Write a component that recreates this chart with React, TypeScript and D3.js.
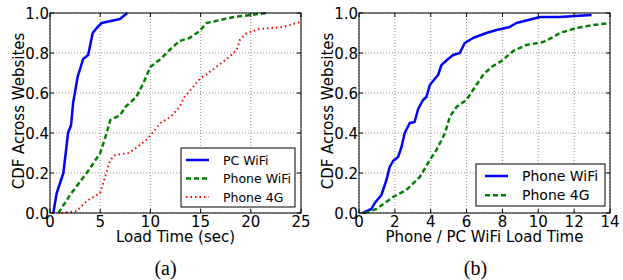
import * as d3 from 'd3';

// (load time in sec, cdf)
const pcWifiA: [number, number][] = [
  [0.33, 0], [0.67, 0.1], [1.33, 0.2], [1.8, 0.4], [2.1, 0.44], [2.3, 0.55], [2.75, 0.68],
  [3.3, 0.77], [3.8, 0.79], [4.25, 0.9], [4.65, 0.925], [5.15, 0.95], [6.97, 0.97], [7.7, 1.0],
];
const phoneWifiA: [number, number][] = [
  [0.83, 0], [2, 0.09], [3.8, 0.21], [5, 0.3], [5.65, 0.4], [6, 0.465], [7, 0.49], [7.5, 0.53],
  [8.6, 0.58], [9.3, 0.65], [10, 0.73], [11, 0.77], [11.8, 0.81], [12.9, 0.86], [13.9, 0.875],
  [14.9, 0.91], [15.6, 0.95], [18.3, 0.98], [21.6, 1.0],
];
const phone4gA: [number, number][] = [
  [1.15, 0], [2.65, 0.01], [3.65, 0.06], [5, 0.1], [5.3, 0.15], [5.6, 0.2], [6, 0.265],
  [6.5, 0.29], [7.8, 0.3], [8.3, 0.315], [9.6, 0.365], [10.2, 0.4], [11, 0.45], [12, 0.48],
  [12.9, 0.53], [13.4, 0.58], [14.1, 0.62], [14.9, 0.67], [16.3, 0.72], [17.6, 0.77],
  [18.6, 0.815], [18.9, 0.865], [19.6, 0.9], [20.9, 0.92], [23.2, 0.93], [24.9, 0.955],
];

// (phone / pc wifi load time ratio, cdf)
const phoneWifiB: [number, number][] = [
  [0.22, 0], [0.69, 0.02], [0.88, 0.05], [1.25, 0.09], [1.53, 0.165], [1.71, 0.23], [1.9, 0.26],
  [2.18, 0.28], [2.37, 0.33], [2.55, 0.4], [2.83, 0.45], [3.1, 0.455], [3.3, 0.52], [3.57, 0.565],
  [3.76, 0.58], [3.95, 0.64], [4.22, 0.67], [4.41, 0.69], [4.6, 0.74], [4.97, 0.77], [5.25, 0.79],
  [5.62, 0.8], [5.9, 0.85], [6.36, 0.875], [7.1, 0.9], [7.67, 0.915], [8.4, 0.93], [8.78, 0.95],
  [10.1, 0.98], [11.2, 0.98], [12.97, 0.99],
];
const phone4gB: [number, number][] = [
  [0.32, 0], [0.97, 0.02], [1.9, 0.08], [2.64, 0.115], [3.39, 0.18], [3.95, 0.265], [4.32, 0.315],
  [4.8, 0.4], [5.06, 0.48], [5.43, 0.53], [5.99, 0.565], [6.36, 0.615], [6.92, 0.69], [7.39, 0.73],
  [7.95, 0.76], [8.6, 0.81], [9.34, 0.84], [10.27, 0.855], [10.83, 0.88], [11.2, 0.9],
  [12.13, 0.925], [13.06, 0.94], [14, 0.95],
];

const xTicksA = [0, 5, 10, 15, 20, 25];
const xTicksB = [0, 2, 4, 6, 8, 10, 12, 14];
const yTicks = [0, 0.2, 0.4, 0.6, 0.8, 1.0];

interface Series {
  name: string;
  data: [number, number][];
  color: string;
  width: number;
  dash?: string;
}

interface Legend { x: number; y: number; w: number; h: number; pad: number; gap: number; font: number }

const FONT = 'DejaVu Sans, sans-serif';

const Panel = ({ left, right, xMax, xTicks, xLabel, series, legend, caption, captionX }: {
  left: number; right: number; xMax: number; xTicks: number[]; xLabel: string;
  series: Series[]; legend: Legend; caption: string; captionX: number;
}) => {
  const top = 13, bottom = 213;
  const x = d3.scaleLinear().domain([0, xMax]).range([left, right]);
  const y = d3.scaleLinear().domain([0, 1]).range([bottom, top]);
  const line = d3.line<[number, number]>().x(d => x(d[0])).y(d => y(d[1]));
  const clipId = `clip-${left}`;
  const mid = (left + right) / 2;
  return (
    <g>
      <defs>
        <clipPath id={clipId}>
          <rect x={left} y={top - 2} width={right - left} height={bottom - top + 4} />
        </clipPath>
      </defs>
      {xTicks.map(t => (
        <line key={'gx' + t} x1={x(t)} x2={x(t)} y1={top} y2={bottom}
          stroke="#666" strokeWidth={0.7} strokeDasharray="1,2" />
      ))}
      {yTicks.map(t => (
        <line key={'gy' + t} x1={left} x2={right} y1={y(t)} y2={y(t)}
          stroke="#666" strokeWidth={0.7} strokeDasharray="1,2" />
      ))}
      <g clipPath={`url(#${clipId})`}>
        {series.map(s => (
          <path key={s.name} d={line(s.data) ?? ''} fill="none" stroke={s.color}
            strokeWidth={s.width} strokeDasharray={s.dash} strokeLinejoin="round" />
        ))}
      </g>
      <rect x={left} y={top} width={right - left} height={bottom - top} fill="none" stroke="#000" strokeWidth={1} />
      {xTicks.map(t => (
        <g key={'tx' + t}>
          <line x1={x(t)} x2={x(t)} y1={bottom} y2={bottom - 4} stroke="#000" />
          <line x1={x(t)} x2={x(t)} y1={top} y2={top + 4} stroke="#000" />
          <text x={x(t)} y={bottom + 13.5} textAnchor="middle" fontFamily={FONT} fontSize={15}>{t}</text>
        </g>
      ))}
      {yTicks.map(t => (
        <g key={'ty' + t}>
          <line x1={left} x2={left + 4} y1={y(t)} y2={y(t)} stroke="#000" />
          <line x1={right} x2={right - 4} y1={y(t)} y2={y(t)} stroke="#000" />
          <text x={left - 1} y={y(t) + 5.5} textAnchor="end" fontFamily={FONT} fontSize={15}>{t.toFixed(1)}</text>
        </g>
      ))}
      <text x={mid} y={241.5} textAnchor="middle" fontFamily={FONT} fontSize={15}>{xLabel}</text>
      <text transform={`translate(${left - 26},${(top + bottom) / 2 - 2}) rotate(-90)`} textAnchor="middle"
        fontFamily={FONT} fontSize={15}>CDF Across Websites</text>
      <rect x={legend.x} y={legend.y} width={legend.w} height={legend.h} fill="#fff" stroke="#000" strokeWidth={1} />
      {series.map((s, i) => {
        const ry = legend.y + 12 + i * legend.gap;
        return (
          <g key={'lg' + s.name}>
            <line x1={legend.x + legend.pad} x2={legend.x + legend.pad + 23} y1={ry} y2={ry} stroke={s.color}
              strokeWidth={s.width} strokeDasharray={s.dash} />
            <text x={legend.x + legend.pad + 37} y={ry + legend.font * 0.36} fontFamily={FONT}
              fontSize={legend.font}>{s.name}</text>
          </g>
        );
      })}
      <text x={captionX} y={275} textAnchor="middle" fontFamily="Liberation Serif, serif" fontSize={20}>{caption}</text>
    </g>
  );
};

const App = () => (
  <svg width={623} height={280} style={{ position: 'absolute', left: 0, top: 0, background: '#fff' }}>
    <Panel left={50} right={301} xMax={25} xTicks={xTicksA} xLabel="Load Time (sec)" caption="(a)" captionX={165.5}
      legend={{ x: 181, y: 148, w: 114, h: 59, pad: 5, gap: 18.5, font: 12.5 }}
      series={[
        { name: 'PC WiFi', data: pcWifiA, color: '#0000ff', width: 2.5 },
        { name: 'Phone WiFi', data: phoneWifiA, color: '#008000', width: 2.5, dash: '5,3' },
        { name: 'Phone 4G', data: phone4gA, color: '#ff0000', width: 2, dash: '1.5,3' },
      ]} />
    <Panel left={359} right={610} xMax={14} xTicks={xTicksB} xLabel="Phone / PC WiFi Load Time" caption="(b)" captionX={475.5}
      legend={{ x: 476, y: 164, w: 129, h: 42, pad: 9, gap: 19.3, font: 14 }}
      series={[
        { name: 'Phone WiFi', data: phoneWifiB, color: '#0000ff', width: 2.5 },
        { name: 'Phone 4G', data: phone4gB, color: '#008000', width: 2.5, dash: '5,3' },
      ]} />
  </svg>
);

export default App;
